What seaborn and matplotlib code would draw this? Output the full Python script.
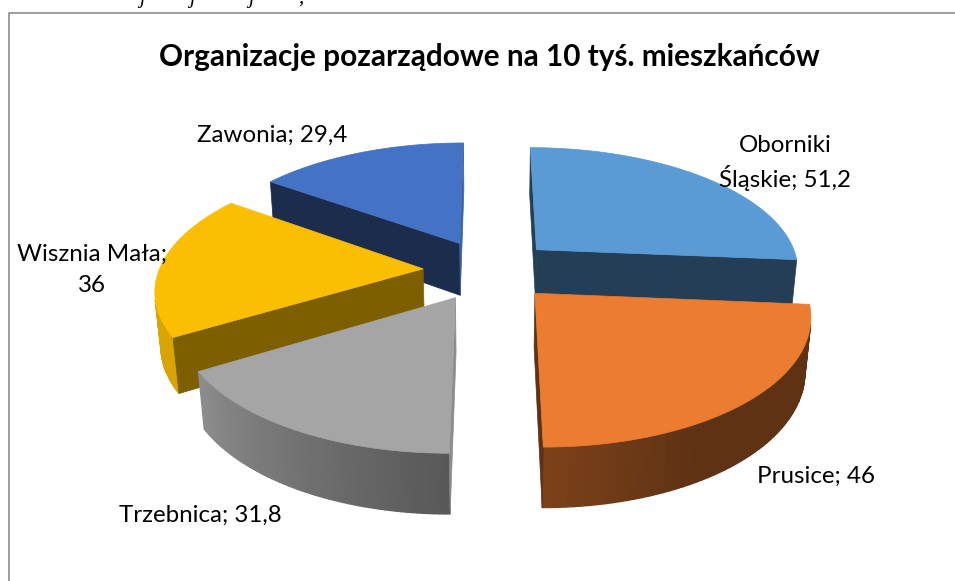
import numpy as np
import matplotlib
matplotlib.use('Agg')
import matplotlib.pyplot as plt
import seaborn as sns

names = ['Oborniki Śląskie', 'Prusice', 'Trzebnica', 'Wisznia Mała', 'Zawonia']
values = [51.2, 46, 31.8, 36, 29.4]
title = 'Organizacje pozarządowe na 10 tyś. mieszkańców'
slice_colors = ['#5B9BD5', '#EB7C30', '#A5A5A5', '#FCBE00', '#4472C4']

# projection of the tilted pie, in picture pixels
CX, CY = 489, 270
RX, RY = 264, 123
HEIGHT = 54
EXPLODE = 0.25
PERSP = 0.15
PERSP_DOWN = 0.018

sns.set_theme(style='white')
plt.rcParams['font.family'] = ['Lato', 'DejaVu Sans']
palette = sns.color_palette(slice_colors)


def project(x, y, down):
    s = 1 / (1 + PERSP * y + PERSP_DOWN * down)
    return CX + RX * x * s, CY - RY * y * s + HEIGHT * down * s


def signed_area(xs, ys):
    return 0.5 * np.sum(xs * np.roll(ys, -1) - np.roll(xs, -1) * ys)


def shade(color, f):
    return tuple(c * f for c in color)


def rim_shade(angle):
    # side of the pie gets lighter towards the left
    return np.interp(angle, [95, 150, 180, 240, 270], [0.40, 0.40, 0.53, 0.86, 0.88])


def draw_slice(ax, a0, a1, color, wall_f):
    mid = np.radians((a0 + a1) / 2)
    ox, oy = EXPLODE * np.sin(mid), EXPLODE * np.cos(mid)
    ang = np.linspace(a0, a1, 60)
    rx = ox + np.sin(np.radians(ang))
    ry = oy + np.cos(np.radians(ang))
    tx, ty = project(rx, ry, 0)
    bx, by = project(rx, ry, 1)
    ax0, ay0 = project(ox, oy, 0)
    ax1, ay1 = project(ox, oy, 1)

    # outer side
    for i in range(len(ang) - 1):
        qx = np.array([tx[i], tx[i + 1], bx[i + 1], bx[i]])
        qy = np.array([ty[i], ty[i + 1], by[i + 1], by[i]])
        if signed_area(qx, qy) < 0:
            c = shade(color, rim_shade((ang[i] + ang[i + 1]) / 2))
            ax.fill(qx, qy, color=c, lw=1.0, zorder=1)

    # the two cut faces, only those turned to the viewer
    for idx, sign, edge in [(0, -1, a0), (-1, 1, a1)]:
        qx = np.array([ax0, tx[idx], bx[idx], ax1])
        qy = np.array([ay0, ty[idx], by[idx], ay1])
        if signed_area(qx, qy) * sign > 0:
            # faces turned to the right catch the light
            lit = sign * np.cos(np.radians(edge)) > 0.9
            ax.fill(qx, qy, color=shade(color, 0.85 if lit else wall_f), lw=0.5, zorder=1)

    ax.fill(np.r_[ax0, tx], np.r_[ay0, ty], color=color, lw=0.5, zorder=1)


fig = plt.figure(figsize=(9.55, 5.81), dpi=100)
ax = fig.add_axes([0, 0, 1, 1])
ax.set_xlim(0, 955)
ax.set_ylim(581, 0)
ax.axis('off')

# chart frame (open at right and bottom of the crop)
ax.plot([8.5, 8.5, 955], [581, 12.5, 12.5], color='#8c8c8c', lw=1.2, zorder=0)

# cropped line of the document above the chart
for gx, g in zip([142, 192, 251, 301], ['j', 'j', 'j', ',']):
    ax.text(gx, -2, g, family='Liberation Serif', style='italic', fontsize=15,
            ha='center', va='center', color='black', clip_on=True)

edges = np.r_[0, np.cumsum(values)] / np.sum(values) * 360
mids = (edges[:-1] + edges[1:]) / 2
wall_f = [0.40, 0.40, 0.45, 0.50, 0.39]
for i in np.argsort(-np.cos(np.radians(mids))):
    draw_slice(ax, edges[i], edges[i + 1], palette[i], wall_f[i])

ax.text(489, 57, title, fontsize=21.4, fontweight='bold', ha='center', va='center', color='black')

labels = [f'{n}; {str(v).replace(".", ",")}' for n, v in zip(names, values)]
labels[0] = labels[0].replace(' ', '\n', 1)
labels[3] = labels[3].replace('; ', ';\n')
label_pos = [(785, 163), (816, 476), (200, 515), (92, 270), (272, 135)]
line_gaps = [1.45, 1.2, 1.2, 1.55, 1.2]
for (lx, ly), text, gap in zip(label_pos, labels, line_gaps):
    ax.text(lx, ly, text, fontsize=17.4, ha='center', va='center', color='black',
            linespacing=gap, zorder=3)

fig.savefig('out.png', dpi=100)
